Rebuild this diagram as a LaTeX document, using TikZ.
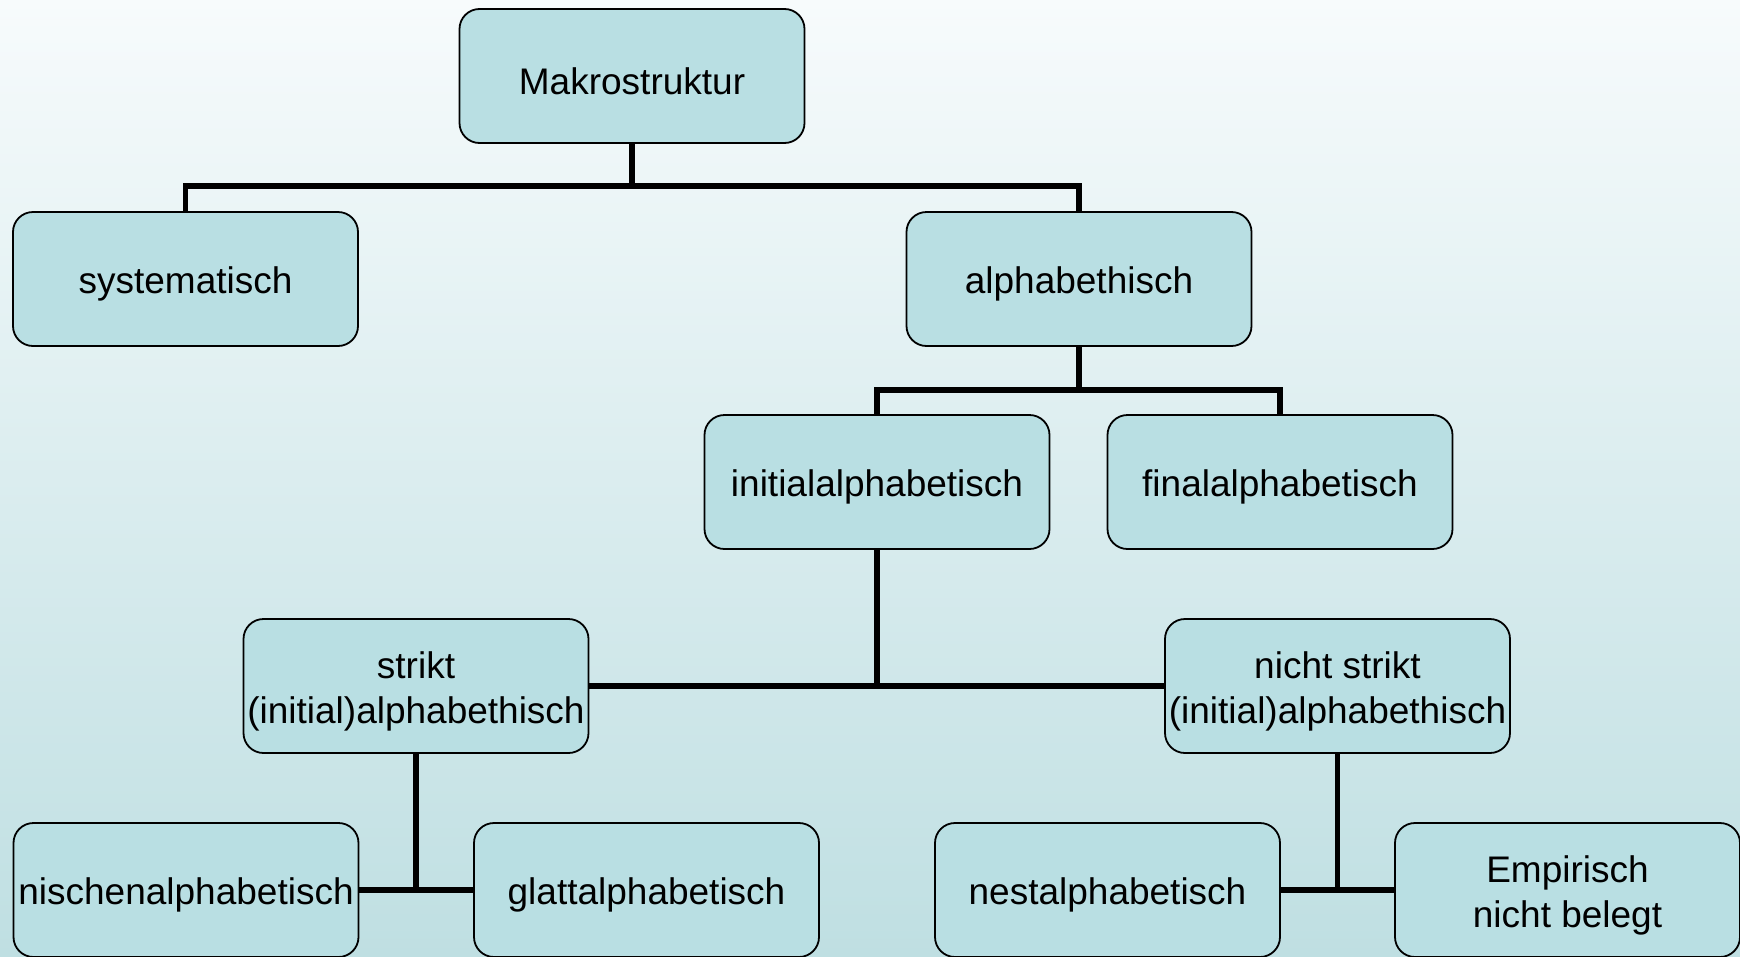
\documentclass[tikz,border=0pt]{standalone}
\usepackage{fontspec}
\setmainfont{Liberation Sans}
\definecolor{bgtop}{HTML}{F7FBFC}
\definecolor{bgbot}{HTML}{BFDFE2}
\definecolor{boxfill}{HTML}{B9DFE3}
\tikzset{
  box/.style={draw=black, line width=1.8pt, fill=boxfill, rounded corners=20pt,
    minimum width=345pt, minimum height=134pt, inner sep=0pt},
  lbl/.style={align=center, inner sep=0pt, yshift=-5pt,
    font=\fontsize{37pt}{45pt}\selectfont},
  conn/.style={draw=black, line width=5.5pt}
}
\begin{document}
\begin{tikzpicture}[x=1pt,y=-1pt]
\useasboundingbox (0,0) rectangle (1740,956);
\clip (0,0) rectangle (1740,956);
\shade[top color=bgtop, bottom color=bgbot] (0,0) rectangle (1740,956);
\node[box, label={[lbl]center:Makrostruktur}] (mak) at (632,76) {};
\node[box, label={[lbl]center:systematisch}] (sys) at (185.5,279) {};
\node[box, label={[lbl]center:alphabethisch}] (alp) at (1079,279) {};
\node[box, label={[lbl]center:initialalphabetisch}] (ini) at (877,482) {};
\node[box, label={[lbl]center:finalalphabetisch}] (fin) at (1280,482) {};
\node[box, label={[lbl]center:strikt\\(initial)alphabethisch}] (str) at (416,686) {};
\node[box, label={[lbl]center:nicht strikt\\(initial)alphabethisch}] (nst) at (1337.5,686) {};
\node[box, label={[lbl]center:nischenalphabetisch}] (nis) at (186,890) {};
\node[box, label={[lbl]center:glattalphabetisch}] (gla) at (646.5,890) {};
\node[box, label={[lbl]center:nestalphabetisch}] (nes) at (1107.5,890) {};
\node[box, label={[lbl]center:Empirisch\\nicht belegt}] (emp) at (1567.5,890) {};
\coordinate (j1) at (632,186);
\coordinate (j2) at (1079,390);
\draw[conn] (mak.south) -- (j1);
\draw[conn] (sys.north) |- (j1) -| (alp.north);
\draw[conn] (alp.south) -- (j2);
\draw[conn] (ini.north) |- (j2) -| (fin.north);
\draw[conn] (ini.south) -- (ini.south |- str.east);
\draw[conn] (str.east) -- (nst.west);
\draw[conn] (str.south) -- (str.south |- nis.east);
\draw[conn] (nis.east) -- (gla.west);
\draw[conn] (nst.south) -- (nst.south |- nes.east);
\draw[conn] (nes.east) -- (emp.west);
\end{tikzpicture}
\end{document}
